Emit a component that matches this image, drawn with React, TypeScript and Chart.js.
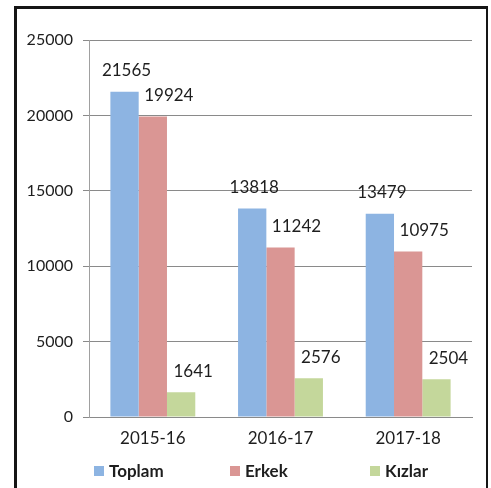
import React, { useEffect, useRef } from "react";
import { Chart, registerables } from "chart.js";

Chart.register(...registerables);

const categories = ["2015-16", "2016-17", "2017-18"];
const seriesNames = ["Toplam", "Erkek", "Kızlar"];
const toplam = [21565, 13818, 13479];
const erkek = [19924, 11242, 10975];
const kizlar = [1641, 2576, 2504];
const yTicks = [0, 5000, 10000, 15000, 20000, 25000];

const colors = ["#8DB4E2", "#DA9694", "#C4D79B"];
const labelShift = [2, 16, 12];
const FONT = "Lato, 'Open Sans', sans-serif";

const valueLabels = {
  id: "valueLabels",
  afterDatasetsDraw(chart: any) {
    const ctx = chart.ctx;
    ctx.save();
    ctx.font = `17px ${FONT}`;
    ctx.fillStyle = "#1e1e1e";
    ctx.textAlign = "center";
    ctx.textBaseline = "middle";
    chart.data.datasets.forEach((ds: any, di: number) => {
      const meta = chart.getDatasetMeta(di);
      meta.data.forEach((el: any, i: number) => {
        ctx.fillText(String(ds.data[i]), el.x + labelShift[di], el.y - 21);
      });
    });
    ctx.restore();
  },
};

export default function App() {
  const ref = useRef<HTMLCanvasElement>(null);
  useEffect(() => {
    if (!ref.current) return;
    const chart = new Chart(ref.current, {
      type: "bar",
      data: {
        labels: categories,
        datasets: [toplam, erkek, kizlar].map((d, i) => ({
          label: seriesNames[i],
          data: d,
          backgroundColor: colors[i],
          borderWidth: 0,
          categoryPercentage: 0.665,
          barPercentage: 1,
        })),
      },
      options: {
        responsive: false,
        animation: false,
        layout: { padding: { top: 40, right: 19, left: 0, bottom: 0 } },
        plugins: { legend: { display: false }, tooltip: { enabled: false } },
        scales: {
          x: {
            afterFit: (s: any) => { s.height = 71; },
            grid: { display: false, drawTicks: false },
            border: { display: true, color: "#8a8a8a", width: 1 },
            ticks: { padding: 11, color: "#1e1e1e", font: { family: FONT, size: 17 } },
          },
          y: {
            min: 0,
            max: 25000,
            afterFit: (s: any) => { s.width = 89; },
            afterBuildTicks: (s: any) => { s.ticks = yTicks.map((v) => ({ value: v })); },
            grid: { color: "#8a8a8a", tickLength: 6, drawTicks: true },
            border: { display: true, color: "#a0a0a0", width: 1 },
            ticks: {
              padding: 10,
              color: "#1e1e1e",
              font: { family: FONT, size: 16 },
              callback: (v: any) => String(v),
            },
          },
        },
      },
      plugins: [valueLabels],
    });
    return () => chart.destroy();
  }, []);

  const itemWidths = [136, 140, 80];
  return (
    <div style={{ position: "fixed", left: 0, top: 0, width: 491, height: 488, background: "#fff", overflow: "hidden" }}>
      <div style={{ position: "absolute", left: 14, top: 6, width: 469, height: 500, borderTop: "3px solid #151515", borderLeft: "3px solid #151515", borderRight: "2px solid #151515" }} />
      <canvas ref={ref} width={491} height={488} style={{ position: "absolute", left: 0, top: 0 }} />
      <div style={{ position: "absolute", left: 94, top: 461, display: "flex", fontFamily: FONT, fontWeight: 700, fontSize: 17, color: "#1e1e1e", lineHeight: "20px" }}>
        {seriesNames.map((n, i) => (
          <div key={n} style={{ width: itemWidths[i], display: "flex", alignItems: "center" }}>
            <span style={{ display: "inline-block", width: 10, height: 10, background: colors[i], marginRight: 5 }} />
            <span>{n}</span>
          </div>
        ))}
      </div>
    </div>
  );
}
